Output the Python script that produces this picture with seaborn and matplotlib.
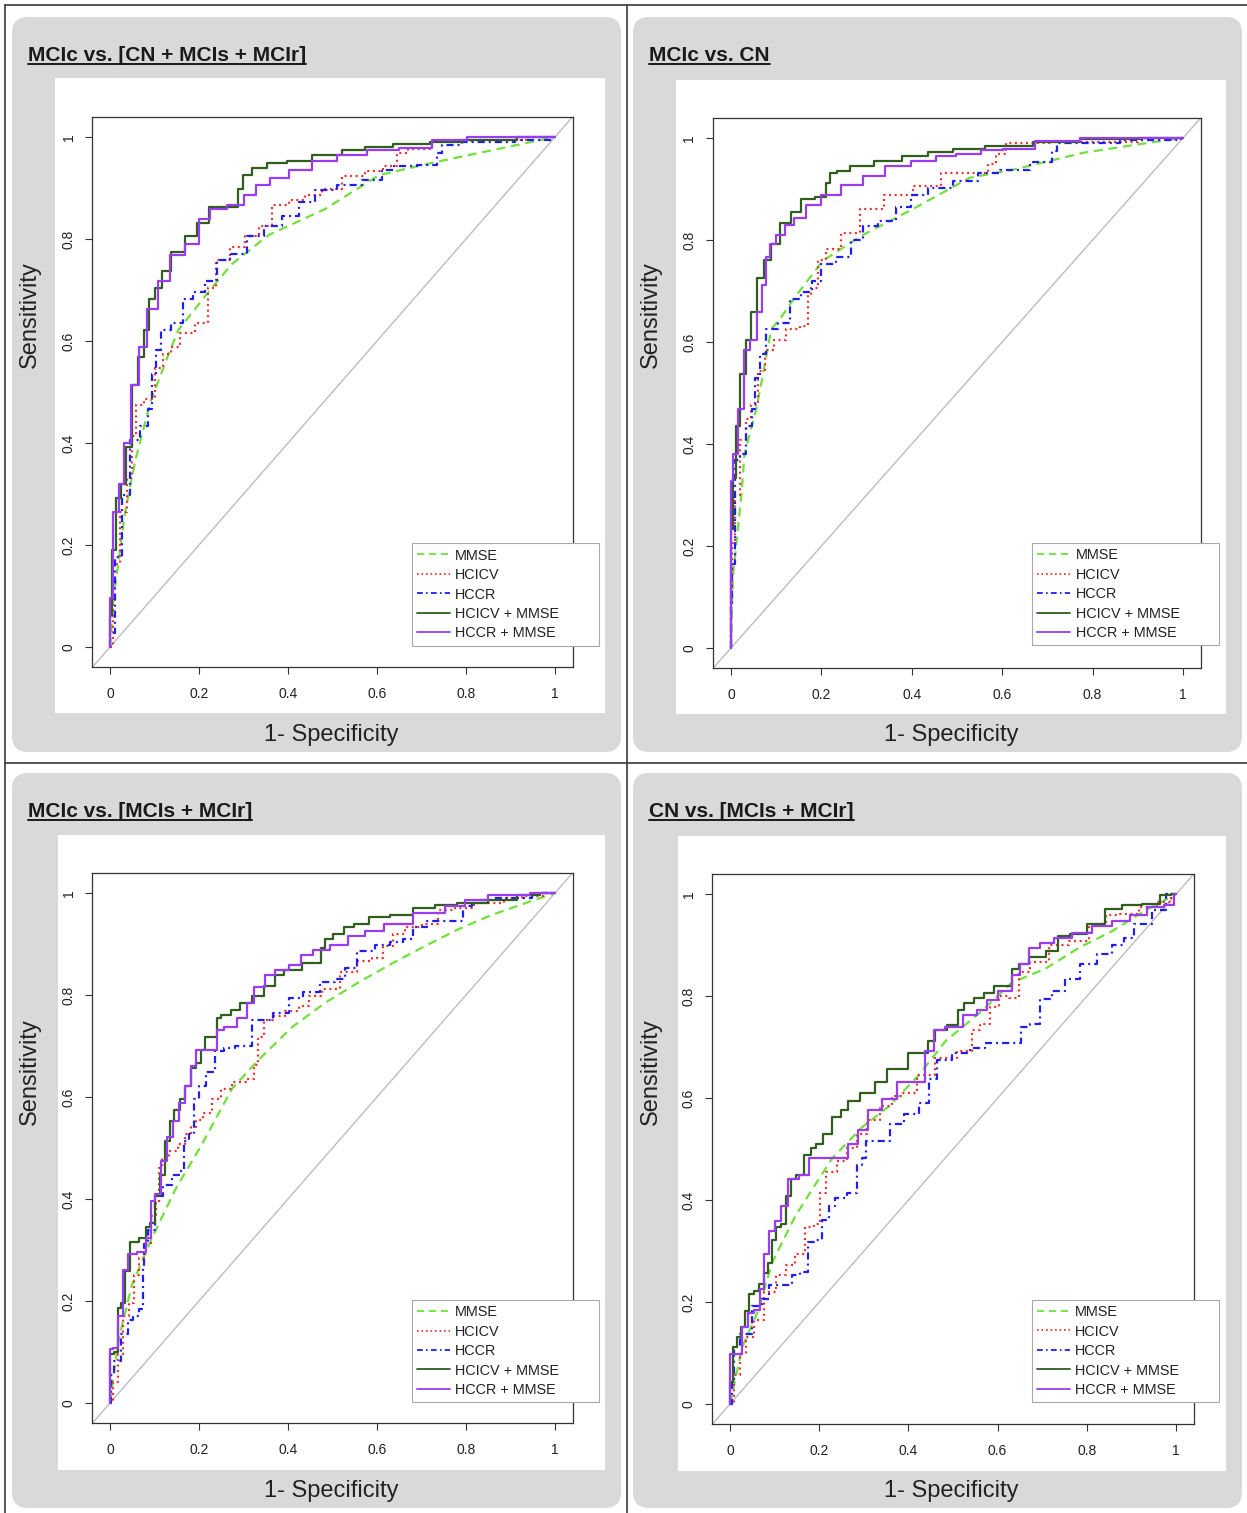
import numpy as np
import pandas as pd
import seaborn as sns
import matplotlib
matplotlib.use("Agg")
import matplotlib.pyplot as plt
from matplotlib.patches import FancyBboxPatch, Rectangle
from matplotlib.lines import Line2D

# ---------------- data ----------------
models = ["MMSE", "HCICV", "HCCR", "HCICV + MMSE", "HCCR + MMSE"]
tick_vals = [0, 0.2, 0.4, 0.6, 0.8, 1]
tick_labels = ["0", "0.2", "0.4", "0.6", "0.8", "1"]
titles = ["MCIc vs. [CN + MCIs + MCIr]", "MCIc vs. CN",
          "MCIc vs. [MCIs + MCIr]", "CN vs. [MCIs + MCIr]"]
xlabel_text = "1- Specificity"
ylabel_text = "Sensitivity"

# Panel 1: MCIc vs. [CN + MCIs + MCIr]
p1_mmse_fpr = [0, 0.008, 0.034, 0.057, 0.091, 0.132, 0.154, 0.222, 0.274, 0.357, 0.484, 0.604, 0.727, 0.869, 1.0]
p1_mmse_tpr = [0, 0.096, 0.265, 0.366, 0.481, 0.575, 0.622, 0.697, 0.751, 0.808, 0.859, 0.925, 0.95, 0.976, 1.0]
p1_hcicv_fpr = [0, 0.012, 0.031, 0.046, 0.053, 0.064, 0.091, 0.109, 0.128, 0.147, 0.169, 0.214, 0.225, 0.252, 0.289, 0.319, 0.349, 0.379, 0.424, 0.454, 0.499, 0.544, 0.604, 0.622, 0.637, 0.652, 0.689, 0.757, 0.869, 1.0]
p1_hcicv_tpr = [0, 0.163, 0.265, 0.332, 0.413, 0.474, 0.487, 0.548, 0.575, 0.589, 0.616, 0.636, 0.704, 0.758, 0.785, 0.805, 0.825, 0.866, 0.876, 0.886, 0.899, 0.923, 0.933, 0.943, 0.943, 0.969, 0.976, 0.992, 0.995, 1.0]
p1_hccr_fpr = [0, 0.002, 0.019, 0.034, 0.057, 0.079, 0.091, 0.098, 0.109, 0.121, 0.154, 0.173, 0.199, 0.229, 0.252, 0.289, 0.327, 0.364, 0.409, 0.439, 0.484, 0.536, 0.596, 0.626, 0.652, 0.727, 0.742, 0.749, 0.831, 0.989, 1.0]
p1_hccr_tpr = [0, 0.028, 0.177, 0.298, 0.406, 0.434, 0.467, 0.535, 0.582, 0.622, 0.636, 0.683, 0.697, 0.717, 0.758, 0.771, 0.805, 0.825, 0.845, 0.872, 0.896, 0.906, 0.916, 0.936, 0.943, 0.946, 0.969, 0.985, 0.99, 0.995, 1.0]
p1_hcicv_mmse_fpr = [0, 0, 0.008, 0.019, 0.031, 0.042, 0.057, 0.068, 0.083, 0.094, 0.109, 0.124, 0.151, 0.184, 0.207, 0.237, 0.282, 0.293, 0.304, 0.334, 0.372, 0.424, 0.484, 0.559, 0.589, 0.682, 0.757, 0.831, 1.0]
p1_hcicv_mmse_tpr = [0, 0.062, 0.19, 0.292, 0.319, 0.393, 0.514, 0.568, 0.622, 0.683, 0.704, 0.737, 0.775, 0.805, 0.832, 0.862, 0.862, 0.899, 0.926, 0.94, 0.95, 0.952, 0.964, 0.974, 0.98, 0.986, 0.99, 0.995, 1.0]
p1_hccr_mmse_fpr = [0, 0, 0.012, 0.027, 0.038, 0.057, 0.072, 0.094, 0.12, 0.151, 0.184, 0.214, 0.237, 0.289, 0.312, 0.342, 0.379, 0.424, 0.484, 0.536, 0.618, 0.682, 0.764, 0.839, 1.0]
p1_hccr_mmse_tpr = [0, 0.096, 0.265, 0.319, 0.4, 0.514, 0.589, 0.663, 0.717, 0.768, 0.791, 0.839, 0.859, 0.866, 0.886, 0.906, 0.92, 0.936, 0.953, 0.964, 0.974, 0.979, 0.994, 1.0, 1.0]

# Panel 2: MCIc vs. CN
p2_mmse_fpr = [0, 0.004, 0.023, 0.03, 0.056, 0.071, 0.089, 0.108, 0.145, 0.204, 0.292, 0.403, 0.528, 0.625, 0.779, 0.927, 1.0]
p2_mmse_tpr = [0, 0.138, 0.3, 0.381, 0.469, 0.537, 0.625, 0.645, 0.692, 0.76, 0.81, 0.861, 0.922, 0.938, 0.971, 0.991, 1.0]
p2_hcicv_fpr = [0, 0, 0.004, 0.015, 0.027, 0.038, 0.052, 0.067, 0.082, 0.108, 0.137, 0.167, 0.174, 0.181, 0.204, 0.218, 0.27, 0.303, 0.373, 0.432, 0.498, 0.558, 0.58, 0.594, 0.625, 0.8, 1.0]
p2_hcicv_tpr = [0, 0.111, 0.206, 0.3, 0.408, 0.449, 0.476, 0.544, 0.584, 0.604, 0.625, 0.631, 0.692, 0.706, 0.76, 0.783, 0.814, 0.861, 0.888, 0.905, 0.932, 0.932, 0.949, 0.969, 0.991, 0.993, 1.0]
p2_hccr_fpr = [0, 0, 0.004, 0.012, 0.027, 0.041, 0.052, 0.056, 0.071, 0.086, 0.122, 0.141, 0.17, 0.189, 0.211, 0.255, 0.277, 0.307, 0.344, 0.388, 0.41, 0.462, 0.521, 0.572, 0.617, 0.706, 0.713, 0.728, 0.993, 1.0]
p2_hccr_tpr = [0, 0.084, 0.165, 0.368, 0.381, 0.435, 0.469, 0.53, 0.577, 0.625, 0.638, 0.685, 0.699, 0.719, 0.753, 0.766, 0.8, 0.827, 0.837, 0.864, 0.888, 0.901, 0.915, 0.932, 0.938, 0.952, 0.975, 0.991, 0.996, 1.0]
p2_hcicv_mmse_fpr = [0, 0, 0.008, 0.015, 0.027, 0.038, 0.049, 0.067, 0.078, 0.1, 0.119, 0.145, 0.167, 0.204, 0.215, 0.222, 0.248, 0.277, 0.355, 0.403, 0.469, 0.513, 0.609, 0.728, 0.816, 1.0]
p2_hcicv_mmse_tpr = [0, 0.233, 0.334, 0.435, 0.537, 0.604, 0.658, 0.726, 0.76, 0.793, 0.834, 0.854, 0.881, 0.885, 0.911, 0.932, 0.935, 0.945, 0.955, 0.965, 0.972, 0.979, 0.984, 0.992, 0.999, 1.0]
p2_hccr_mmse_fpr = [0, 0, 0, 0.008, 0.023, 0.034, 0.052, 0.063, 0.075, 0.082, 0.089, 0.111, 0.126, 0.152, 0.181, 0.218, 0.27, 0.314, 0.366, 0.432, 0.476, 0.521, 0.587, 0.617, 0.728, 0.816, 1.0]
p2_hccr_mmse_tpr = [0, 0.084, 0.327, 0.381, 0.469, 0.584, 0.604, 0.658, 0.712, 0.766, 0.793, 0.81, 0.83, 0.844, 0.868, 0.888, 0.908, 0.925, 0.945, 0.955, 0.964, 0.969, 0.976, 0.978, 0.994, 1.0, 1.0]

# Panel 3: MCIc vs. [MCIs + MCIr]
p3_mmse_fpr = [0, 0.019, 0.049, 0.094, 0.147, 0.207, 0.274, 0.334, 0.409, 0.484, 0.559, 0.634, 0.708, 0.783, 0.858, 0.933, 1.0]
p3_mmse_tpr = [0, 0.123, 0.231, 0.323, 0.419, 0.508, 0.616, 0.673, 0.737, 0.785, 0.825, 0.862, 0.896, 0.929, 0.957, 0.98, 1.0]
p3_hcicv_fpr = [0, 0.015, 0.023, 0.034, 0.053, 0.057, 0.072, 0.087, 0.098, 0.109, 0.113, 0.121, 0.143, 0.162, 0.177, 0.188, 0.199, 0.218, 0.241, 0.259, 0.289, 0.323, 0.326, 0.341, 0.352, 0.379, 0.409, 0.439, 0.454, 0.499, 0.536, 0.573, 0.603, 0.626, 0.648, 0.678, 0.723, 0.753, 0.798, 0.836, 0.873, 0.896, 0.955, 1.0]
p3_hcicv_tpr = [0, 0.042, 0.096, 0.17, 0.197, 0.251, 0.285, 0.312, 0.366, 0.393, 0.461, 0.481, 0.494, 0.508, 0.528, 0.542, 0.555, 0.569, 0.596, 0.616, 0.629, 0.636, 0.663, 0.717, 0.751, 0.758, 0.768, 0.778, 0.798, 0.812, 0.845, 0.866, 0.872, 0.896, 0.92, 0.933, 0.94, 0.967, 0.97, 0.98, 0.98, 0.99, 0.994, 1.0]
p3_hccr_fpr = [0, 0.004, 0.015, 0.034, 0.045, 0.057, 0.072, 0.075, 0.079, 0.094, 0.106, 0.132, 0.147, 0.162, 0.169, 0.184, 0.192, 0.207, 0.226, 0.244, 0.267, 0.297, 0.341, 0.393, 0.412, 0.454, 0.491, 0.521, 0.536, 0.573, 0.618, 0.641, 0.678, 0.686, 0.738, 0.783, 0.805, 0.82, 0.896, 1.0]
p3_hccr_tpr = [0, 0.055, 0.082, 0.136, 0.163, 0.17, 0.184, 0.265, 0.312, 0.339, 0.406, 0.427, 0.447, 0.454, 0.514, 0.528, 0.596, 0.622, 0.65, 0.69, 0.697, 0.7, 0.751, 0.764, 0.795, 0.805, 0.825, 0.832, 0.852, 0.886, 0.899, 0.903, 0.909, 0.933, 0.946, 0.946, 0.974, 0.987, 0.99, 1.0]
p3_hcicv_mmse_fpr = [0, 0, 0.016, 0.019, 0.031, 0.038, 0.053, 0.079, 0.083, 0.098, 0.106, 0.117, 0.132, 0.136, 0.151, 0.162, 0.177, 0.188, 0.2, 0.211, 0.218, 0.241, 0.241, 0.26, 0.282, 0.304, 0.334, 0.357, 0.386, 0.398, 0.424, 0.439, 0.469, 0.48, 0.487, 0.517, 0.536, 0.559, 0.604, 0.656, 0.708, 0.753, 0.805, 0.896, 0.933, 1.0]
p3_hcicv_mmse_tpr = [0, 0.096, 0.1, 0.187, 0.196, 0.258, 0.315, 0.323, 0.346, 0.352, 0.406, 0.447, 0.514, 0.552, 0.575, 0.596, 0.622, 0.656, 0.666, 0.693, 0.717, 0.717, 0.754, 0.761, 0.771, 0.785, 0.798, 0.818, 0.839, 0.849, 0.849, 0.862, 0.862, 0.893, 0.909, 0.92, 0.933, 0.94, 0.952, 0.957, 0.97, 0.977, 0.98, 0.987, 0.997, 1.0]
p3_hccr_mmse_fpr = [0, 0, 0.015, 0.023, 0.034, 0.049, 0.072, 0.091, 0.094, 0.109, 0.121, 0.136, 0.147, 0.162, 0.177, 0.188, 0.2, 0.237, 0.244, 0.267, 0.304, 0.311, 0.334, 0.364, 0.379, 0.424, 0.436, 0.477, 0.51, 0.559, 0.589, 0.641, 0.723, 0.783, 0.813, 0.888, 1.0]
p3_hccr_mmse_tpr = [0, 0.106, 0.108, 0.17, 0.261, 0.292, 0.296, 0.323, 0.396, 0.41, 0.474, 0.521, 0.552, 0.589, 0.622, 0.66, 0.693, 0.693, 0.731, 0.737, 0.754, 0.785, 0.815, 0.839, 0.849, 0.859, 0.879, 0.889, 0.899, 0.916, 0.926, 0.94, 0.96, 0.974, 0.987, 0.997, 1.0]

# Panel 4: CN vs. [MCIs + MCIr]
p4_mmse_fpr = [0, 0.027, 0.064, 0.094, 0.146, 0.184, 0.229, 0.296, 0.356, 0.423, 0.483, 0.558, 0.632, 0.707, 0.782, 0.857, 0.932, 1.0]
p4_mmse_tpr = [0, 0.111, 0.185, 0.277, 0.368, 0.421, 0.482, 0.543, 0.584, 0.645, 0.712, 0.766, 0.827, 0.854, 0.895, 0.928, 0.969, 1.0]
p4_hcicv_fpr = [0, 0.019, 0.027, 0.045, 0.064, 0.087, 0.117, 0.135, 0.158, 0.177, 0.199, 0.203, 0.229, 0.251, 0.273, 0.296, 0.318, 0.356, 0.371, 0.401, 0.438, 0.483, 0.535, 0.55, 0.572, 0.595, 0.61, 0.64, 0.655, 0.692, 0.737, 0.782, 0.827, 0.857, 0.894, 0.939, 0.976, 1.0]
p4_hcicv_tpr = [0, 0.057, 0.098, 0.132, 0.165, 0.219, 0.253, 0.273, 0.294, 0.347, 0.353, 0.415, 0.456, 0.476, 0.503, 0.53, 0.557, 0.584, 0.604, 0.611, 0.645, 0.678, 0.692, 0.733, 0.746, 0.78, 0.8, 0.797, 0.847, 0.868, 0.901, 0.908, 0.942, 0.959, 0.962, 0.975, 0.985, 1.0]
p4_hccr_fpr = [0, 0.008, 0.012, 0.034, 0.064, 0.079, 0.094, 0.132, 0.147, 0.169, 0.18, 0.199, 0.214, 0.229, 0.244, 0.281, 0.289, 0.304, 0.307, 0.348, 0.371, 0.408, 0.438, 0.453, 0.475, 0.52, 0.558, 0.587, 0.643, 0.662, 0.685, 0.707, 0.737, 0.767, 0.804, 0.842, 0.872, 0.894, 0.917, 0.939, 0.954, 1.0]
p4_hccr_tpr = [0, 0.044, 0.111, 0.138, 0.192, 0.206, 0.233, 0.233, 0.253, 0.26, 0.317, 0.321, 0.361, 0.388, 0.405, 0.415, 0.469, 0.482, 0.516, 0.516, 0.55, 0.57, 0.591, 0.638, 0.675, 0.689, 0.699, 0.709, 0.709, 0.74, 0.746, 0.794, 0.81, 0.834, 0.864, 0.884, 0.901, 0.915, 0.942, 0.942, 0.969, 1.0]
p4_hcicv_mmse_fpr = [0, 0.002, 0.012, 0.019, 0.031, 0.038, 0.049, 0.06, 0.072, 0.079, 0.09, 0.098, 0.109, 0.12, 0.132, 0.143, 0.154, 0.177, 0.188, 0.199, 0.217, 0.24, 0.258, 0.27, 0.311, 0.341, 0.363, 0.39, 0.408, 0.434, 0.453, 0.468, 0.505, 0.516, 0.535, 0.557, 0.58, 0.602, 0.625, 0.64, 0.655, 0.688, 0.729, 0.744, 0.782, 0.819, 0.864, 0.894, 0.954, 0.976, 1.0]
p4_hcicv_mmse_tpr = [0, 0.044, 0.111, 0.132, 0.152, 0.182, 0.216, 0.222, 0.235, 0.258, 0.277, 0.321, 0.347, 0.353, 0.408, 0.442, 0.449, 0.489, 0.503, 0.51, 0.53, 0.564, 0.577, 0.594, 0.611, 0.631, 0.658, 0.658, 0.689, 0.689, 0.712, 0.733, 0.743, 0.773, 0.787, 0.797, 0.807, 0.82, 0.82, 0.854, 0.864, 0.878, 0.888, 0.918, 0.922, 0.942, 0.972, 0.979, 0.982, 0.999, 1.0]
p4_hccr_mmse_fpr = [0, 0.002, 0.019, 0.034, 0.045, 0.064, 0.072, 0.079, 0.094, 0.109, 0.12, 0.139, 0.169, 0.184, 0.258, 0.273, 0.299, 0.318, 0.363, 0.385, 0.423, 0.453, 0.46, 0.505, 0.542, 0.565, 0.587, 0.617, 0.647, 0.655, 0.685, 0.707, 0.744, 0.789, 0.834, 0.879, 0.917, 0.954, 0.991, 1.0]
p4_hccr_mmse_tpr = [0, 0.098, 0.098, 0.152, 0.178, 0.185, 0.226, 0.294, 0.34, 0.36, 0.388, 0.442, 0.449, 0.482, 0.482, 0.51, 0.537, 0.577, 0.598, 0.631, 0.631, 0.692, 0.733, 0.739, 0.763, 0.773, 0.793, 0.81, 0.841, 0.864, 0.894, 0.905, 0.915, 0.925, 0.938, 0.948, 0.959, 0.975, 0.979, 1.0]

panel_data = [
    [(p1_mmse_fpr, p1_mmse_tpr), (p1_hcicv_fpr, p1_hcicv_tpr), (p1_hccr_fpr, p1_hccr_tpr),
     (p1_hcicv_mmse_fpr, p1_hcicv_mmse_tpr), (p1_hccr_mmse_fpr, p1_hccr_mmse_tpr)],
    [(p2_mmse_fpr, p2_mmse_tpr), (p2_hcicv_fpr, p2_hcicv_tpr), (p2_hccr_fpr, p2_hccr_tpr),
     (p2_hcicv_mmse_fpr, p2_hcicv_mmse_tpr), (p2_hccr_mmse_fpr, p2_hccr_mmse_tpr)],
    [(p3_mmse_fpr, p3_mmse_tpr), (p3_hcicv_fpr, p3_hcicv_tpr), (p3_hccr_fpr, p3_hccr_tpr),
     (p3_hcicv_mmse_fpr, p3_hcicv_mmse_tpr), (p3_hccr_mmse_fpr, p3_hccr_mmse_tpr)],
    [(p4_mmse_fpr, p4_mmse_tpr), (p4_hcicv_fpr, p4_hcicv_tpr), (p4_hccr_fpr, p4_hccr_tpr),
     (p4_hcicv_mmse_fpr, p4_hcicv_mmse_tpr), (p4_hccr_mmse_fpr, p4_hccr_mmse_tpr)],
]

# ---------------- styles ----------------
palette = {"MMSE": "#72e03a", "HCICV": "#e8302c", "HCCR": "#1f1ff5",
           "HCICV + MMSE": "#2f5e1e", "HCCR + MMSE": "#9a3cf0"}
dash_map = {"MMSE": (4.0, 2.6), "HCICV": (0.9, 1.6), "HCCR": (3.2, 1.8, 0.9, 1.8),
            "HCICV + MMSE": "", "HCCR + MMSE": ""}
LW = 1.6

sns.set_theme(style="ticks")
plt.rcParams["font.family"] = ["Liberation Sans", "DejaVu Sans"]

W, H = 1247, 1513
fig = plt.figure(figsize=(W / 100, H / 100), dpi=100)
fig.patch.set_facecolor("white")


def fx(px):
    return px / W


def fy(py):
    return 1 - py / H


# layout (pixels, top-left origin)
gray_boxes = [(12, 17, 621, 752), (633, 17, 1242, 752), (12, 773, 621, 1508), (633, 773, 1242, 1508)]
white_boxes = [(55, 78, 605, 713), (676, 80, 1226, 714), (58, 835, 605, 1470), (678, 836, 1226, 1471)]
axes_boxes = [(92.2, 116.6, 572.8, 667.4), (712.9, 117.6, 1201.1, 668.4),
              (92.2, 872.6, 572.8, 1423.4), (712.2, 874.0, 1193.8, 1424.4)]
title_pos = [(28, 61), (649, 61), (28, 817), (649, 817)]
ylabel_pos = [(30, 315), (651, 315), (30, 1072), (651, 1072)]
xlabel_pos = [(331, 735), (951, 735), (331, 1491), (951, 1491)]

for (x0, y0, x1, y1) in gray_boxes:
    p = FancyBboxPatch((x0 / 100, (H - y1) / 100), (x1 - x0) / 100, (y1 - y0) / 100,
                       boxstyle="round,pad=0,rounding_size=0.16",
                       transform=fig.dpi_scale_trans, facecolor="#d9d9d9",
                       edgecolor="none", zorder=-3)
    fig.add_artist(p)
for (x0, y0, x1, y1) in white_boxes:
    r = Rectangle((fx(x0), fy(y1)), fx(x1) - fx(x0), fy(y0) - fy(y1),
                  transform=fig.transFigure, facecolor="white", edgecolor="none", zorder=-2)
    fig.add_artist(r)

# frame lines
frame_col = "#3a3a3a"
for xs, ys in [((5, W), (5, 5)), ((5, 5), (5, H)), ((627, 627), (5, H)), ((5, W), (763, 763))]:
    fig.add_artist(Line2D([fx(v) for v in xs], [fy(v) for v in ys], transform=fig.transFigure,
                          color=frame_col, lw=1.2, zorder=-1))

legend_handles = []
for m in models:
    h = Line2D([0], [0], color=palette[m], lw=1.3, linestyle="-")
    if dash_map[m] != "":
        h.set_dashes(dash_map[m])
    legend_handles.append(h)

step_models = models[1:]
title_texts = []
for i in range(4):
    x0, y0, x1, y1 = axes_boxes[i]
    ax = fig.add_axes([fx(x0), fy(y1), fx(x1) - fx(x0), fy(y0) - fy(y1)])
    ax.set_facecolor("none")

    frames = []
    for m, (fp, tp) in zip(models, panel_data[i]):
        if len(fp) != len(tp):
            raise ValueError(f"length mismatch panel {i+1} {m}: {len(fp)} vs {len(tp)}")
        frames.append(pd.DataFrame({"fpr": fp, "tpr": tp, "model": m}))
    df = pd.concat(frames, ignore_index=True)

    ax.axline((0, 0), (1, 1), color="#bdbdbd", lw=1.0, zorder=1)
    # MMSE curve: few thresholds, drawn as straight segments
    sns.lineplot(data=df[df["model"] == "MMSE"], x="fpr", y="tpr", hue="model", style="model",
                 hue_order=["MMSE"], style_order=["MMSE"], palette=palette,
                 dashes={"MMSE": dash_map["MMSE"]},
                 sort=False, estimator=None, lw=LW, legend=False, ax=ax, zorder=3)
    # the other ROC curves: staircase
    sns.lineplot(data=df[df["model"] != "MMSE"], x="fpr", y="tpr", hue="model", style="model",
                 hue_order=step_models, style_order=step_models, palette=palette,
                 dashes={m: dash_map[m] for m in step_models},
                 sort=False, estimator=None, lw=LW, legend=False, ax=ax, zorder=3,
                 drawstyle="steps-mid")

    ax.set_xlim(-0.04, 1.04)
    ax.set_ylim(-0.04, 1.04)
    ax.set_xticks(tick_vals)
    ax.set_xticklabels(tick_labels)
    ax.set_yticks(tick_vals)
    ax.set_yticklabels(tick_labels, rotation=90, va="center")
    ax.set_xlabel("")
    ax.set_ylabel("")
    ax.tick_params(axis="both", direction="out", length=5, width=0.8, color="#333333",
                   labelsize=10, labelcolor="#222222")
    ax.tick_params(axis="x", pad=9)
    ax.tick_params(axis="y", pad=7)
    for s in ax.spines.values():
        s.set_visible(True)
        s.set_color("#333333")
        s.set_linewidth(0.9)

    lx, ly = [(0.665, 0.225), (0.654, 0.227), (0.665, 0.224), (0.664, 0.226)][i]
    lw_frac = 187 / (x1 - x0)
    lh_frac = 102 / (y1 - y0)
    leg = ax.legend(handles=legend_handles, labels=models, loc="upper left",
                    bbox_to_anchor=(lx, ly - lh_frac, lw_frac, lh_frac), mode="expand",
                    borderaxespad=0, frameon=True, fancybox=False, fontsize=10.4,
                    handlelength=2.3, handletextpad=0.35, labelspacing=0.38, borderpad=0.35)
    leg.get_frame().set_edgecolor("#a8a8a8")
    leg.get_frame().set_linewidth(0.8)
    leg.get_frame().set_facecolor("white")
    leg.get_frame().set_alpha(1)
    for t in leg.get_texts():
        t.set_color("#222222")

    tx, ty = title_pos[i]
    t = fig.text(fx(tx), fy(ty), titles[i], fontsize=15, fontweight="bold",
                 color="#1a1a1a", ha="left", va="baseline")
    title_texts.append(t)
    yx, yy = ylabel_pos[i]
    fig.text(fx(yx), fy(yy), ylabel_text, fontsize=17, rotation=90, color="#222222",
             ha="center", va="center")
    xx, xy = xlabel_pos[i]
    fig.text(fx(xx), fy(xy), xlabel_text, fontsize=17, color="#222222",
             ha="center", va="center")

# underline titles
renderer = fig.canvas.get_renderer()
for t, (tx, ty) in zip(title_texts, title_pos):
    bb = t.get_window_extent(renderer)
    fig.add_artist(Line2D([bb.x0 / W, bb.x1 / W], [fy(ty + 3), fy(ty + 3)],
                          transform=fig.transFigure, color="#1a1a1a", lw=1.4))

fig.savefig("out.png", dpi=100, facecolor="white")
